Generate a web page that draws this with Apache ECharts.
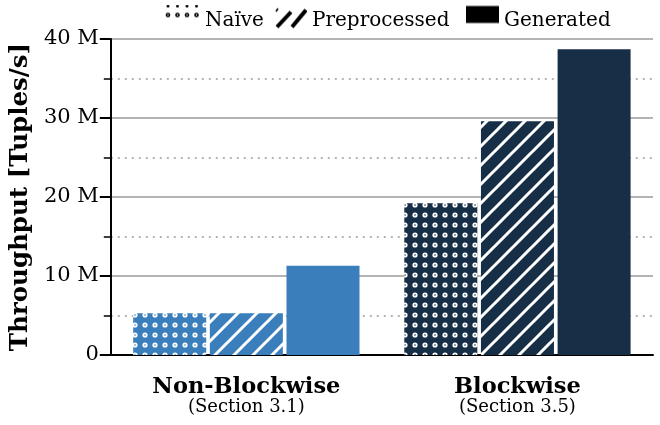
<!DOCTYPE html>
<html>
<head>
<meta charset="utf-8">
<script src="https://cdn.jsdelivr.net/npm/echarts@6/dist/echarts.min.js"></script>
<style>
  html, body { margin: 0; padding: 0; background: #ffffff; }
  #chart { width: 660px; height: 425px; }
</style>
</head>
<body>
<div id="chart"></div>
<script>
// Throughput of the three code variants, in millions of tuples per second
const categories = ['Non-Blockwise', 'Blockwise'];
const sections = ['(Section 3.1)', '(Section 3.5)'];
const seriesNames = ['Naïve', 'Preprocessed', 'Generated'];
const naive = [5.3, 19.2];
const preprocessed = [5.3, 29.6];
const generated = [11.3, 38.7];
const yTicks = [0, 10, 20, 30, 40];
const yTickLabels = ['0', '10 M', '20 M', '30 M', '40 M'];

const FONT = '"DejaVu Serif", serif';
const groupColors = ['#3a7ebb', '#172e47'];

function makeCanvas(w, h) {
  const c = document.createElement('canvas');
  c.width = w; c.height = h;
  return c;
}

// white ring dots on a solid fill
function dotPattern(bg) {
  const s = 10;
  const c = makeCanvas(s, s);
  const g = c.getContext('2d');
  g.fillStyle = bg; g.fillRect(0, 0, s, s);
  g.fillStyle = '#ffffff';
  g.beginPath(); g.arc(5, 5, 2.6, 0, Math.PI * 2); g.fill();
  g.fillStyle = bg;
  g.beginPath(); g.arc(5, 5, 0.8, 0, Math.PI * 2); g.fill();
  return { image: c, repeat: 'repeat' };
}

// white 45-degree stripes on a solid fill
function hatchPattern(bg) {
  const s = 19;
  const c = makeCanvas(s, s);
  const g = c.getContext('2d');
  g.fillStyle = bg; g.fillRect(0, 0, s, s);
  g.strokeStyle = '#ffffff'; g.lineWidth = 3;
  g.beginPath();
  for (let k = -1; k <= 1; k++) {
    g.moveTo(k * s - 1, s + 1);
    g.lineTo(k * s + s + 1, -1);
  }
  g.stroke();
  return { image: c, repeat: 'repeat' };
}

// legend glyphs, each drawn in a 32 px tall box
const ICON_H = 32;
function dotIcon() {
  const c = makeCanvas(35, ICON_H);
  const g = c.getContext('2d');
  g.fillStyle = '#000';
  for (let i = 0; i < 4; i++) {
    g.beginPath(); g.arc(3 + i * 9.5, 10.5, 2.3, 0, Math.PI * 2); g.fill();
    g.beginPath(); g.arc(3 + i * 9.5, 1.5, 1.5, 0, Math.PI * 2); g.fill();
  }
  g.fillStyle = '#ffffff';
  for (let i = 0; i < 4; i++) {
    g.beginPath(); g.arc(3 + i * 9.5, 10.5, 0.7, 0, Math.PI * 2); g.fill();
  }
  return 'image://' + c.toDataURL();
}
function hatchIcon() {
  const c = makeCanvas(32, ICON_H);
  const g = c.getContext('2d');
  g.strokeStyle = '#000'; g.lineWidth = 4;
  g.beginPath();
  g.moveTo(2, 22.5); g.lineTo(16, 7.5);
  g.moveTo(17, 22.5); g.lineTo(31, 5.5);
  g.stroke();
  g.lineWidth = 1.5;
  g.beginPath(); g.moveTo(1, 7); g.lineTo(3, 4); g.stroke();
  return 'image://' + c.toDataURL();
}
function solidIcon() {
  const c = makeCanvas(33, ICON_H);
  const g = c.getContext('2d');
  g.fillStyle = '#000'; g.fillRect(0, 1.5, 33, 17);
  return 'image://' + c.toDataURL();
}

function itemsFor(values, patternFn) {
  return values.map(function (v, i) {
    return { value: v, itemStyle: { color: patternFn ? patternFn(groupColors[i]) : groupColors[i] } };
  });
}

const legendText = { fontFamily: FONT, fontSize: 20, color: '#000' };
function legendFor(idx, icon, left, width) {
  return {
    data: [{ name: seriesNames[idx], icon: icon }],
    left: left, top: -0.5, padding: 5,
    itemWidth: width, itemHeight: ICON_H,
    textStyle: legendText, selectedMode: false
  };
}

const option = {
  animation: false,
  backgroundColor: '#ffffff',
  grid: { left: 109, right: 7, top: 39, bottom: 70, containLabel: false },
  legend: [
    legendFor(0, dotIcon(), 160, 35),
    legendFor(1, hatchIcon(), 270, 32),
    legendFor(2, solidIcon(), 461, 33)
  ],
  xAxis: {
    type: 'category',
    data: categories,
    axisLine: { lineStyle: { color: '#000', width: 2 } },
    axisTick: { alignWithLabel: true, length: 11, lineStyle: { color: '#000', width: 2.5 } },
    axisLabel: {
      margin: 19,
      formatter: function (v, i) { return '{b|' + v + '}\n{s|' + sections[i] + '}'; },
      rich: {
        b: { fontFamily: FONT, fontWeight: 'bold', fontSize: 22.5, color: '#000', lineHeight: 26 },
        s: { fontFamily: FONT, fontSize: 18, color: '#000', lineHeight: 14 }
      }
    }
  },
  yAxis: {
    type: 'value',
    min: 0, max: 40, interval: 10,
    name: 'Throughput [Tuples/s]',
    nameLocation: 'middle',
    nameGap: 72,
    nameTextStyle: { fontFamily: FONT, fontWeight: 'bold', fontSize: 24.5, color: '#000' },
    axisLine: { show: true, lineStyle: { color: '#000', width: 2 } },
    axisTick: { show: true, length: 11, lineStyle: { color: '#000', width: 2 } },
    minorTick: { show: true, splitNumber: 2, length: 7, lineStyle: { color: '#000', width: 1.5 } },
    axisLabel: {
      margin: 12,
      fontFamily: FONT, fontSize: 21, color: '#000',
      formatter: function (v) { const i = yTicks.indexOf(v); return i >= 0 ? yTickLabels[i] : ''; }
    },
    splitLine: { show: true, lineStyle: { color: '#b4b4b4', width: 2 } },
    minorSplitLine: { show: true, lineStyle: { color: '#b4b4b4', width: 2, type: [2, 5] } }
  },
  series: [
    { name: seriesNames[0], type: 'bar', barWidth: 73, barGap: '5%', data: itemsFor(naive, dotPattern) },
    { name: seriesNames[1], type: 'bar', barWidth: 73, barGap: '5%', data: itemsFor(preprocessed, hatchPattern) },
    { name: seriesNames[2], type: 'bar', barWidth: 73, barGap: '5%', data: itemsFor(generated, null) }
  ]
};

const chart = echarts.init(document.getElementById('chart'), null, { renderer: 'canvas' });
chart.setOption(option);
</script>
</body>
</html>
